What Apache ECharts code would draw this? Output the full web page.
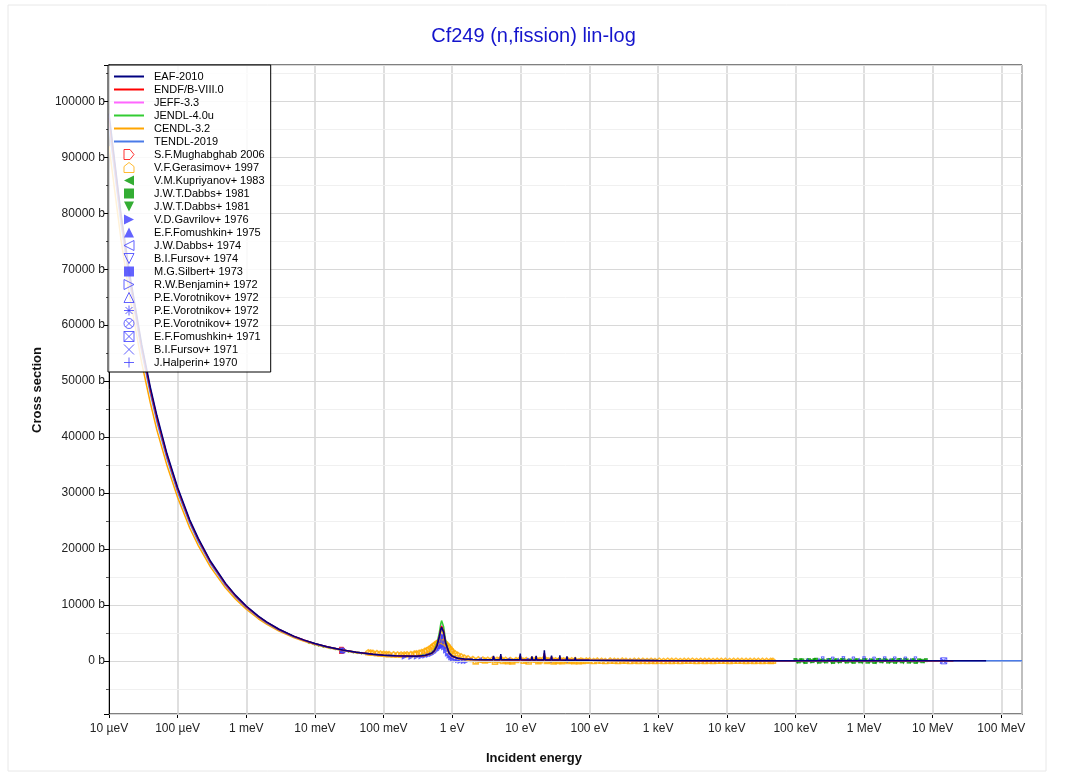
<!DOCTYPE html>
<html><head><meta charset="utf-8">
<script src="https://cdn.jsdelivr.net/npm/echarts@6/dist/echarts.min.js"></script>
<style>html,body{margin:0;padding:0;background:#fff}#c{width:1067px;height:774px}</style>
</head><body><div id="c"></div>
<script>
// ---------- texts ----------
const TITLE = 'Cf249 (n,fission) lin-log';
const X_NAME = 'Incident energy';
const Y_NAME = 'Cross section';
const X_TICK_LABELS = {'-5':'10 µeV','-4':'100 µeV','-3':'1 meV','-2':'10 meV','-1':'100 meV','0':'1 eV','1':'10 eV','2':'100 eV','3':'1 keV','4':'10 keV','5':'100 keV','6':'1 MeV','7':'10 MeV','8':'100 MeV'};

// ---------- evaluated data (energy in eV, cross section in b) ----------
const EVAL_E = [1e-5,1.5e-5,2e-5,3e-5,4e-5,5e-5,7e-5,1e-4,1.5e-4,2e-4,3e-4,5e-4,7e-4,1e-3,1.5e-3,2e-3,3e-3,5e-3,7e-3,1e-2,0.015,0.0253,0.04,0.05,0.07,0.1,0.15,0.2,
 0.3,0.4,0.5,0.55,0.6,0.65,0.68,0.7,0.71,0.72,0.75,0.8,0.9,1.0,1.2,1.5,2,3,
 3.9,4.0,4.1, 5.0,5.1,5.2, 9.6,9.8,10.0, 14.2,14.5,14.8, 16.4,16.7,17.0, 21.5,22,22.5, 27.5,28,28.5, 36.5,37,37.5, 46,47,48, 61,62,63,
 100,1e3,1e4,1e5,1e6,1e7,2e7,6e7,2e8];
const EAF_2010 = [97800,79800,69200,56500,48900,43800,37000,31000,25200,21900,17850,13850,11700,9800,8000,6930,5650,4380,3700,3100,2530,1950,1555,1400,1180,1010,910,880,
 840,950,1340,1800,2700,4350,5550,6000,6050,5980,5150,3250,1400,840,460,310,255,205,
 195,900,195, 190,1200,190, 175,1300,175, 165,800,165, 160,900,160, 155,1900,155, 145,950,145, 135,1000,135, 125,800,125, 115,600,115,
 95,45,16,6,3,3,3,2.5,null];
const ENDF_B_VIII_0 = [97000,79200,68600,56000,48500,43400,36700,30700,25000,21700,17700,13700,11600,9700,7920,6860,5600,4340,3670,3070,2510,1930,1540,1390,1170,1000,900,870,
 830,945,1350,1830,2770,4460,5680,6200,6260,6190,5280,3290,1400,830,450,300,250,200,
 190,700,190, 185,900,185, 170,1000,170, 160,600,160, 155,700,155, 150,1400,150, 140,700,140, 130,700,130, 120,600,120, 110,450,110,
 90,40,15,6,3,3,3,null,null];
const JEFF_3_3 = [97000,79200,68600,56000,48500,43400,36700,30700,25000,21700,17700,13700,11600,9700,7920,6860,5600,4340,3670,3070,2510,1930,1540,1390,1170,1000,905,875,
 835,955,1370,1870,2850,4620,5920,6460,6520,6440,5480,3400,1430,840,455,300,250,200,
 190,650,190, 185,850,185, 170,950,170, 160,550,160, 155,650,155, 150,1300,150, 140,650,140, 130,650,130, 120,550,120, 110,400,110,
 90,40,15,6,3,3,3,null,null];
const JENDL_4_0U = [96500,78800,68200,55700,48300,43200,36500,30500,24900,21600,17600,13650,11550,9650,7880,6830,5570,4320,3650,3060,2500,1925,1535,1385,1165,1000,905,880,
 850,985,1450,2020,3130,5100,6580,7200,7280,7180,6080,3720,1520,870,460,300,250,200,
 190,500,190, 185,700,185, 170,800,170, 160,450,160, 155,500,155, 150,1100,150, 140,500,140, 130,500,130, 120,450,120, 110,350,110,
 90,40,15,6,3,3,3,null,null];
const CENDL_3_2 = [92000,75200,65200,53200,46100,41200,34900,29200,23750,20600,16800,13000,11000,9220,7520,6520,5320,4120,3490,2920,2385,1840,1465,1320,1110,960,860,830,
 790,900,1260,1680,2520,4000,5050,5500,5550,5480,4700,2950,1280,780,430,290,240,195,
 185,185,185, 180,180,180, 165,165,165, 155,155,155, 150,150,150, 145,145,145, 135,135,135, 125,125,125, 115,115,115, 105,105,105,
 85,38,14,6,3,3,3,null,null];
const TENDL_2019 = [95500,78000,67500,55200,47800,42700,36100,30200,24600,21300,17400,13450,11400,9530,7800,6740,5510,4260,3610,3010,2470,1900,1515,1365,1150,985,885,860,
 820,935,1320,1780,2680,4300,5450,5950,6000,5930,5070,3150,1360,820,450,300,250,200,
 190,400,190, 185,500,185, 170,600,170, 160,350,160, 155,400,155, 150,800,150, 140,400,140, 130,400,130, 120,350,120, 110,300,110,
 90,40,15,6,3,3,3,2.5,2];

const EVAL_NAMES = ['EAF-2010','ENDF/B-VIII.0','JEFF-3.3','JENDL-4.0u','CENDL-3.2','TENDL-2019'];
const EVAL_COLORS = ['#000080','#ff0000','#ff66ff','#33cc33','#ffa500','#4a7be8'];
const EVAL_VALUES = [EAF_2010, ENDF_B_VIII_0, JEFF_3_3, JENDL_4_0U, CENDL_3_2, TENDL_2019];

// ---------- experimental data ----------
const MUGHABGHAB_2006_E = [0.0253];
const MUGHABGHAB_2006_S = [1870];
const GERASIMOV_1997_E = [0.06,0.065,0.07,0.08,0.09,0.1,0.11,0.12,0.14,0.16,0.18,0.2,0.22,0.25,0.28,0.3,0.33,0.36,0.4,0.43,0.46,0.5,0.53,0.56,0.6,0.63,0.66,0.7,0.72,0.75,0.78,0.82,0.86,0.9,0.95,1.0,1.1,1.2,1.35,1.5,1.7,2.0,2.4,2.8,3.3,3.9,4.5,5.1,6,7,8.5,9.8,12,14.5,16.7,19,22,25,28,32,37,42,47,55,62,75,90,
 2.2,3.0,4.2,5.5,6.5,7.5,11,13,18,24,30,35,40,50,60,70,80,
 100,115,130,150,170,200,230,260,300,340,390,450,520,600,690,790,900,1040,1200,1380,1580,1820,2100,2400,2750,3160,3630,4170,4790,5500,6310,7240,8320,9550,11000,12600,14500,16600,19100,21900,25100,28800,33100,38000,43700,47000];
const GERASIMOV_1997_S = [1550,1500,1450,1380,1320,1270,1230,1200,1160,1140,1140,1150,1170,1220,1290,1350,1450,1580,1780,1950,2150,2450,2700,2950,3200,3380,3480,3520,3500,3400,3250,3000,2700,2400,2050,1750,1350,1100,800,600,450,330,260,220,200,300,180,350,170,160,150,320,140,230,260,130,400,120,240,110,230,100,190,90,140,80,70,
 -100,50,-150,0,-80,-100,20,-120,-50,0,-100,-30,-50,0,-60,-80,-40,
 60,-20,50,30,-30,45,10,-25,40,5,-30,35,0,30,-20,25,-10,30,-15,20,0,25,-20,15,5,20,-15,10,0,15,-10,10,5,10,-10,8,5,8,-5,6,4,6,-5,5,4,5];
const KUPRIYANOV_1983_E = [0.008,0.0095,0.011,0.013,0.016,0.019,0.03,0.035,0.04,0.046];
const KUPRIYANOV_1983_S = [3250,2980,2760,2540,2290,2100,1680,1550,1450,1350];
const DABBS_1981_SQ_E = [1.00e5,1.12e5,1.26e5,1.41e5,1.58e5,1.78e5,2.00e5,2.24e5,2.51e5,2.82e5,3.16e5,3.55e5,3.98e5,4.47e5,5.01e5,5.62e5,6.31e5,7.08e5,7.94e5,8.91e5,1.00e6,1.12e6,1.26e6,1.41e6,1.58e6,1.78e6,2.00e6,2.24e6,2.51e6,2.82e6,3.16e6,3.55e6,3.98e6,4.47e6,5.01e6,5.62e6,6.31e6,7.08e6,7.94e6];
const DABBS_1981_SQ_S = [150,-100,80,-200,120,-50,200,-150,60,-100,150,-200,90,-60,180,-120,50,-180,100,-80,140,-150,70,-200,110,-60,170,-130,40,-170,120,-90,160,-140,60,-190,90,-70,130];
const DABBS_1981_TR_E = [1.06e5,1.19e5,1.33e5,1.5e5,1.68e5,1.88e5,2.11e5,2.37e5,2.66e5,2.99e5,3.35e5,3.76e5,4.22e5,4.73e5,5.31e5,5.96e5,6.68e5,7.5e5,8.41e5,9.44e5,1.06e6,1.19e6,1.33e6,1.5e6,1.68e6,1.88e6,2.11e6,2.37e6,2.66e6,2.99e6,3.35e6,3.76e6,4.22e6,4.73e6,5.31e6,5.96e6,6.68e6,7.5e6];
const DABBS_1981_TR_S = [-250,100,-300,50,-200,150,-280,0,-220,120,-300,60,-250,140,-200,30,-260,80,-150,-280,110,-240,40,-300,130,-210,20,-270,90,-230,150,-290,60,-200,100,-260,30,-150];
const GAVRILOV_1976_E = [0.2,0.25,0.3,0.35,0.4,0.45,0.5,0.55,0.6,0.65,0.68,0.7,0.72,0.75,0.8,0.85,0.9,0.95,1.0,1.1,1.2,1.3,1.45,1.6];
const GAVRILOV_1976_S = [650,620,640,700,800,950,1150,1450,1850,2300,2550,2650,2600,2300,1700,1200,800,500,300,100,0,-100,-150,-150];
const FOMUSHKIN_1975_E = [1.5e5,2.2e5,3e5,4.2e5,6e5,8.5e5,1.2e6,1.7e6,2.4e6,3.4e6,4.8e6];
const FOMUSHKIN_1975_S = [300,350,280,320,300,340,290,330,300,320,280];
const DABBS_1974_E = [2.5,6.5,12,26,45];
const DABBS_1974_S = [200,150,130,110,100];
const FURSOV_1974_E = [2.5e5,3.5e5,5e5,7e5,1e6,1.4e6,2e6,2.8e6,4e6,5.6e6];
const FURSOV_1974_S = [450,400,480,420,460,400,450,430,410,440];
const SILBERT_1973_E = [0.62,0.66,0.69,0.71,0.73,0.76,0.8];
const SILBERT_1973_S = [2400,3500,4300,4500,4200,3300,2200];
const BENJAMIN_1972_E = [0.0253];
const BENJAMIN_1972_S = [1900];
const VOROTNIKOV_1972A_E = [0.0253];
const VOROTNIKOV_1972A_S = [1850];
const VOROTNIKOV_1972B_E = [0.0253];
const VOROTNIKOV_1972B_S = [1880];
const VOROTNIKOV_1972C_E = [0.0253];
const VOROTNIKOV_1972C_S = [1860];
const FOMUSHKIN_1971_E = [1.45e7];
const FOMUSHKIN_1971_S = [3];
const FURSOV_1971_E = [1.4e7];
const FURSOV_1971_S = [3];
const HALPERIN_1970_E = [0.0253];
const HALPERIN_1970_S = [1890];

const BLUE = '#3c3cff', GREEN = '#009900';
const P = {
  houseR: 'path://M0,0 L6,0 L10,5 L6,10 L0,10 Z',
  houseU: 'path://M0,10 L0,4 L5,0 L10,4 L10,10 Z',
  triL: 'path://M10,0 L10,10 L0,5 Z',
  triD: 'path://M0,0 L10,0 L5,10 Z',
  triR: 'path://M0,0 L10,5 L0,10 Z',
  triU: 'path://M5,0 L10,10 L0,10 Z',
  sq: 'path://M0,0 L10,0 L10,10 L0,10 Z',
  star: 'path://M5,0 L5,10 M0,5 L10,5 M1.5,1.5 L8.5,8.5 M8.5,1.5 L1.5,8.5',
  circX: 'path://M10,5 A5,5 0 1 1 0,5 A5,5 0 1 1 10,5 Z M1.5,1.5 L8.5,8.5 M8.5,1.5 L1.5,8.5',
  boxX: 'path://M0,0 L10,0 L10,10 L0,10 Z M0,0 L10,10 M10,0 L0,10',
  cross: 'path://M0,0 L10,10 M10,0 L0,10',
  plus: 'path://M5,0 L5,10 M0,5 L10,5'
};
const LINE_ICON = 'path://M0,0 L30,0 L30,2 L0,2 Z';
// name, E, S, symbol, color, filled, size, stroke width
const EXP = [
  ['S.F.Mughabghab 2006', MUGHABGHAB_2006_E, MUGHABGHAB_2006_S, P.houseR, '#ff0000', false, 6, 1.2],
  ['V.F.Gerasimov+ 1997', GERASIMOV_1997_E, GERASIMOV_1997_S, P.houseU, '#ffaa00', false, 5, 1.6],
  ['V.M.Kupriyanov+ 1983', KUPRIYANOV_1983_E, KUPRIYANOV_1983_S, P.triL, GREEN, true, 3, 0],
  ['J.W.T.Dabbs+ 1981#1', DABBS_1981_SQ_E, DABBS_1981_SQ_S, P.sq, GREEN, true, 4, 0],
  ['J.W.T.Dabbs+ 1981#2', DABBS_1981_TR_E, DABBS_1981_TR_S, P.triD, GREEN, true, 4, 0],
  ['V.D.Gavrilov+ 1976', GAVRILOV_1976_E, GAVRILOV_1976_S, P.triR, BLUE, true, 5, 0],
  ['E.F.Fomushkin+ 1975', FOMUSHKIN_1975_E, FOMUSHKIN_1975_S, P.triU, BLUE, true, 3, 0],
  ['J.W.Dabbs+ 1974', DABBS_1974_E, DABBS_1974_S, P.triL, BLUE, false, 4, 1],
  ['B.I.Fursov+ 1974', FURSOV_1974_E, FURSOV_1974_S, P.triD, BLUE, false, 3, 1],
  ['M.G.Silbert+ 1973', SILBERT_1973_E, SILBERT_1973_S, P.sq, BLUE, true, 4, 0],
  ['R.W.Benjamin+ 1972', BENJAMIN_1972_E, BENJAMIN_1972_S, P.triR, BLUE, false, 5, 1],
  ['P.E.Vorotnikov+ 1972#1', VOROTNIKOV_1972A_E, VOROTNIKOV_1972A_S, P.triU, BLUE, false, 5, 1],
  ['P.E.Vorotnikov+ 1972#2', VOROTNIKOV_1972B_E, VOROTNIKOV_1972B_S, P.star, BLUE, false, 5, 1],
  ['P.E.Vorotnikov+ 1972#3', VOROTNIKOV_1972C_E, VOROTNIKOV_1972C_S, P.circX, BLUE, false, 5, 1],
  ['E.F.Fomushkin+ 1971', FOMUSHKIN_1971_E, FOMUSHKIN_1971_S, P.boxX, BLUE, false, 6, 1],
  ['B.I.Fursov+ 1971', FURSOV_1971_E, FURSOV_1971_S, P.cross, BLUE, false, 5, 1],
  ['J.Halperin+ 1970', HALPERIN_1970_E, HALPERIN_1970_S, P.plus, BLUE, false, 5, 1]
];

const FONT = 'Liberation Sans, Arial, sans-serif';
const series = [];
const legendData = [];

function styleOf(d, w) {
  return d[5] ? {color: d[4], borderColor: d[4], borderWidth: 0}
              : {color: 'transparent', borderColor: d[4], borderWidth: w};
}

EXP.forEach(function (d) {
  series.push({
    type: 'scatter', name: d[0], symbol: d[3], symbolSize: d[6], silent: true, z: 2,
    itemStyle: styleOf(d, d[7]),
    data: d[1].map(function (e, i) { return [e, d[2][i]]; })
  });
});

// lines drawn over the points, EAF last
const order = [2, 3, 4, 5, 1, 0];
order.forEach(function (k) {
  series.push({
    type: 'line', name: EVAL_NAMES[k], symbol: 'none', silent: true, z: 3,
    lineStyle: {color: EVAL_COLORS[k], width: 1.5},
    itemStyle: {color: EVAL_COLORS[k]},
    data: EVAL_E.map(function (e, i) { return [e, EVAL_VALUES[k][i]]; })
                .filter(function (p) { return p[1] !== null; })
  });
});

EVAL_NAMES.forEach(function (n, k) {
  legendData.push({name: n, icon: LINE_ICON, itemStyle: {color: EVAL_COLORS[k], borderWidth: 0}});
});
EXP.forEach(function (d) {
  legendData.push({name: d[0], icon: d[3], itemStyle: styleOf(d, 1)});
});

const chart = echarts.init(document.getElementById('c'), null, {renderer: 'canvas'});
chart.setOption({
  animation: false,
  backgroundColor: '#ffffff',
  textStyle: {fontFamily: FONT},
  title: {
    text: TITLE, left: 'center', top: 21,
    textStyle: {color: '#1414cc', fontSize: 20, fontWeight: 'normal', fontFamily: FONT}
  },
  grid: {left: 109, right: 45, top: 65, bottom: 60, show: true, borderColor: '#000', borderWidth: 1, containLabel: false},
  legend: {
    orient: 'vertical', left: 108, top: 65,
    itemWidth: 30, itemHeight: 10, itemGap: 2,
    padding: [6, 6, 4, 6],
    backgroundColor: 'rgba(255,255,255,0.85)', borderColor: '#000', borderWidth: 1,
    textStyle: {fontSize: 11, lineHeight: 11, color: '#000', fontFamily: FONT, padding: [0, 0, 0, 5]},
    formatter: function (n) { return n.replace(/#\d+$/, ''); },
    selectedMode: false,
    data: legendData
  },
  xAxis: {
    type: 'log', logBase: 10, min: 1e-5, max: 2e8, interval: 1,
    axisLine: {onZero: false, lineStyle: {color: '#000', width: 1}},
    axisTick: {show: true, length: 4, lineStyle: {color: '#000'}},
    axisLabel: {
      color: '#222', fontSize: 12, margin: 9, fontFamily: FONT, showMaxLabel: false,
      formatter: function (v) {
        const l = Math.log10(v), e = Math.round(l);
        if (Math.abs(l - e) > 1e-6) return '';
        return X_TICK_LABELS[String(e)] || '';
      }
    },
    splitLine: {show: true, lineStyle: {color: '#d4d4d4', width: 1.5}}
  },
  yAxis: [{
    type: 'value', position: 'left', min: -9500, max: 106500, splitNumber: 12, z: 3,
    axisLine: {show: true, onZero: false, lineStyle: {color: '#000'}},
    axisTick: {show: true, length: 5, lineStyle: {color: '#000'}},
    axisLabel: {
      color: '#222', fontSize: 12, margin: 4, fontFamily: FONT,
      formatter: function (v) { return (Math.round(v) % 10000 === 0) ? (v + ' b') : ''; }
    },
    splitLine: {show: true, lineStyle: {color: '#d8d8d8', width: 1.2}}
  }, {
    type: 'value', position: 'left', offset: 0, min: -9500, max: 106500, splitNumber: 24, z: 1,
    axisLine: {show: false, onZero: false},
    axisTick: {show: true, length: 3, lineStyle: {color: '#555'}},
    axisLabel: {show: false},
    splitLine: {show: true, lineStyle: {color: '#f0f0f0', width: 1}}
  }],
  graphic: [
    {type: 'rect', shape: {x: 8, y: 5, width: 1038, height: 766}, style: {fill: 'none', stroke: '#e8e8e8', lineWidth: 1}, silent: true, z: -10},
    {type: 'text', x: 534, y: 758, style: {text: X_NAME, fill: '#111', font: 'bold 13px ' + FONT, textAlign: 'center', textVerticalAlign: 'middle'}},
    {type: 'text', x: 37, y: 390, rotation: Math.PI / 2, style: {text: Y_NAME, fill: '#111', font: 'bold 13px ' + FONT, textAlign: 'center', textVerticalAlign: 'middle'}}
  ],
  series: series
});
</script>
</body></html>
